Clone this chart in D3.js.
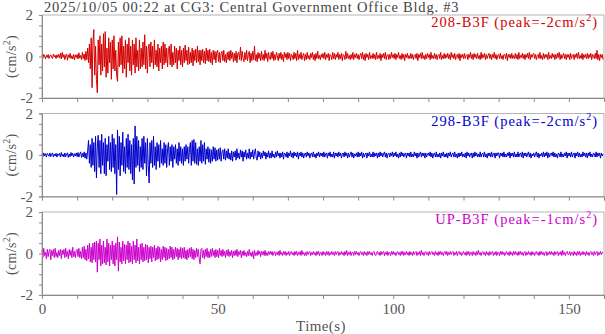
<!DOCTYPE html>
<html>
<head>
<meta charset="utf-8">
<script src="https://cdn.jsdelivr.net/npm/d3@7"></script>
<style>
  body { margin: 0; background: #fff; }
  svg text { font-family: "Liberation Serif", "Times New Roman", serif; }
</style>
</head>
<body>
<svg id="chart" width="605" height="334"></svg>
<script>
// sample interval of the records (s)
var dt = 0.25;

var titleText = "2025/10/05 00:22 at CG3: Central Government Office Bldg. #3";
var channelNames = ["208-B3F", "298-B3F", "UP-B3F"];
var channelPeaks = ["-2", "-2", "-1"];
var channelColors = ["#d40000", "#0000cc", "#cc00cc"];
var xTickLabels = [0, 50, 100, 150];
var yTickLabels = [-2, 0, 2];

// 208-B3F acceleration (cm/s^2), one row = 5 s
var ch208 = [
  .05,-.08,.1,.02,-.12,.06,-.04,.1,-.1,.03,.08,-.06,-.1,.12,-.02,.06,-.1,.08,-.04,.1,
  -.08,.15,-.12,.2,-.05,.1,-.15,.05,.12,-.18,.08,-.06,.15,-.1,.04,-.12,.1,-.15,.08,-.05,
  .1,-.12,.18,-.08,.05,-.15,.2,-.1,.12,-.2,.25,-.15,.4,-.3,.6,-.6,.9,-1.5,.7,1.3,
  -.9,.5,-1.1,-1.75,.8,-.4,1.0,-.9,.6,-.7,1.1,-.5,1.2,-1.0,.4,-.8,.9,-.3,.7,-1.1,
  .8,-.6,1.0,-.7,.3,-.9,-1.2,.7,-.5,.9,-.4,1.0,-.8,.5,-.6,.8,-1.0,.6,-.3,.9,
  -.7,.5,-.9,.8,-.4,.6,-.8,.9,-.5,.3,-.7,.8,-.6,.4,-.5,.7,-.4,1.05,-.6,.5,
  -.8,.4,.6,-.5,.7,-.3,.5,-.6,.8,-.4,.3,-.5,.6,-.7,.4,-.3,.5,-.6,.7,-.4,
  .6,-.3,.4,-.5,.3,.5,-.4,.6,-.5,.2,-.4,.5,-.3,.4,-.6,.3,-.2,.5,-.4,.3,
  -.5,.4,-.3,.55,-.2,.3,-.4,.45,-.35,.2,-.3,.4,-.45,.3,-.2,.35,-.3,.5,-.25,.3,
  -.4,.3,-.2,.35,-.3,.25,-.35,.4,-.2,.3,-.25,.35,-.3,.2,-.4,.3,-.15,.25,-.3,.2,
  .3,-.25,.2,-.3,.15,.25,-.2,.3,-.25,.1,-.3,.2,-.15,.25,-.2,.3,-.1,.2,-.25,.15,
  -.2,.25,-.3,.15,.2,-.15,.45,-.2,.25,-.1,-.25,.2,-.15,.3,-.2,.1,.25,-.3,.15,-.2,
  .25,-.15,.5,-.2,.1,-.25,.2,-.1,.15,-.2,.25,-.15,.1,-.2,.3,-.1,.15,-.25,.2,-.1,
  -.15,.2,-.1,.25,-.2,.1,-.15,.2,.05,-.2,.15,-.1,.2,-.15,.1,-.25,.2,-.05,.15,-.15,
  .2,-.1,.15,-.2,.1,.05,-.15,.2,-.1,.15,-.2,.3,-.15,.1,-.1,.2,-.15,.05,.15,-.2,
  .1,-.15,.2,-.1,.05,-.15,.15,-.05,.2,-.15,.1,-.2,.15,-.1,.25,-.1,.05,-.15,.1,-.05,
  .15,-.1,.2,-.15,.1,-.05,.15,-.2,.1,.05,-.15,.2,-.1,.15,-.15,.1,-.05,.2,-.15,.1,
  -.1,.15,-.2,.1,.05,-.15,.25,-.1,.15,-.1,.05,-.15,.1,-.1,.2,-.15,.1,-.05,.15,-.1,
  .1,-.15,.05,.15,-.1,.2,-.15,.1,-.2,.15,-.05,.1,-.15,.2,-.1,.05,-.1,.15,-.1,.1,
  -.15,.2,-.1,.05,-.1,.15,-.2,.1,-.05,.15,-.1,.2,-.15,.05,.1,-.15,.1,-.1,.2,-.05,
  .1,-.1,.15,-.15,.1,-.05,.2,-.1,.05,-.15,.15,-.1,.1,-.2,.1,-.05,.15,-.1,.05,-.1,
  .15,-.1,.1,-.15,.05,.1,-.1,.15,-.2,.1,-.05,.15,-.1,.2,-.1,.05,-.15,.1,-.1,.15,
  -.05,.1,-.15,.2,-.1,.05,-.1,.15,-.1,.1,-.15,.05,.1,-.1,.2,-.15,.05,-.1,.15,-.1,
  .1,-.05,.15,-.1,.1,-.15,.2,-.05,.1,-.1,.15,-.15,.05,.1,-.1,.15,-.2,.1,-.05,.1,
  -.1,.15,-.1,.05,.1,-.15,.1,-.05,.2,-.1,.1,-.15,.15,-.05,.1,-.1,.15,-.1,.05,-.15,
  .2,-.1,.1,-.05,.15,-.15,.1,-.1,.05,.15,-.1,.1,-.15,.1,-.05,.2,-.1,.1,-.15,.05,
  .1,-.1,.15,-.1,.05,-.15,.1,.1,-.1,.15,-.2,.1,-.05,.1,-.1,.15,-.1,.05,-.1,.15,
  -.1,.1,-.15,.2,-.1,.05,-.05,.15,-.1,.1,-.15,.1,-.05,.15,-.1,.2,-.15,.1,-.05,.1,
  .15,-.1,.1,-.15,.05,.1,-.1,.2,-.1,.05,-.15,.15,-.1,.1,-.05,.1,-.15,.2,-.1,.05,
  -.1,.15,-.05,.1,-.15,.1,-.1,.15,-.05,.2,-.15,.1,-.1,.05,.15,-.1,.1,-.15,.1,-.05,
  .1,-.15,.15,-.1,.05,.1,-.15,.1,-.05,.15,-.1,.2,-.1,.05,-.1,.15,-.15,.1,-.05,.1,
  -.1,.15,-.1,.1,-.05,.15,-.15,.1,.05,-.1,.15,-.1,.3,-.15,.1,-.2,.1,-.05,.1,-.15
];

// 298-B3F
var ch298 = [
  .05,-.08,.1,-.04,.06,-.1,.08,.02,-.06,.1,-.08,.04,.1,-.1,.05,-.05,.08,-.1,.06,-.02,
  .08,-.1,.12,-.06,.04,-.1,.1,-.08,.06,.1,-.12,.05,-.08,.12,-.04,.08,-.1,.06,-.05,.1,
  -.08,.12,-.1,.05,.15,-.12,.08,-.1,.15,-.15,.1,-.2,.2,.7,-.4,.5,-.6,.8,-.5,.6,
  -.8,.9,-1.1,.4,.95,-.6,.7,-.9,1.0,-.5,.6,-.9,.8,-1.0,.5,-.3,.9,-.7,.6,-.8,
  1.0,-.6,.8,-.9,.5,-1.9,1.2,-.7,.9,-1.0,.6,-.5,1.1,-.8,.4,-.9,.8,-.6,1.0,-.7,
  .7,-.9,.5,-1.2,.8,-1.4,1.4,-.6,.9,-.5,.7,-.8,.4,-.6,.8,-.7,.9,-.4,.6,-1.0,
  .8,-.5,-1.35,.6,-.4,.7,-.6,.9,-.5,.4,-.7,.6,-.3,.5,-.6,.7,-.4,.3,-.5,.6,
  -.4,.5,-.6,.3,.6,-.5,.4,-.3,.5,-.6,.4,-.2,.5,-.4,.3,-.5,.6,-.3,.4,-.4,
  .3,-.5,.4,-.3,.5,-.2,.4,-.4,.3,.6,-.5,.7,-.3,.75,-.4,.6,-.45,.3,-.5,.4,
  -.3,.7,-.4,.5,-.3,.6,-.45,.3,-.2,.4,-.35,.3,-.4,.25,-.3,.4,-.2,.35,-.3,.25,
  -.25,.3,-.2,.35,-.3,.15,.25,-.2,.3,-.25,.2,-.15,.3,-.2,.1,-.25,.2,-.3,.15,-.1,
  .2,-.25,.3,-.15,.1,-.2,.25,-.1,.2,-.3,.15,-.1,.25,-.2,.1,-.15,.3,-.2,.15,-.1,
  .25,-.2,.1,.3,-.15,-.25,.2,-.1,.15,-.2,.1,-.15,.2,-.05,.15,-.2,.1,-.1,.2,-.15,
  .1,-.15,.2,-.1,.05,-.15,.15,-.1,.2,-.05,.1,-.15,.1,-.1,.15,-.2,.1,.05,-.1,.15,
  -.15,.1,-.05,.2,-.1,.1,-.15,.15,-.05,.1,-.1,.15,-.2,.1,-.05,.15,-.1,.1,-.15,.05,
  .1,-.1,.15,-.05,.1,-.15,.05,.1,-.1,.15,-.1,.05,-.15,.1,-.05,.15,-.1,.1,-.05,.1,
  -.1,.15,-.1,.05,.1,-.15,.1,-.05,.15,-.1,.05,-.1,.15,-.15,.1,-.05,.1,-.1,.15,-.05,
  .1,-.15,.05,.1,-.1,.15,-.05,.1,-.15,.1,-.1,.05,.15,-.1,.1,-.15,.05,-.05,.1,-.1,
  .15,-.1,.1,-.05,.15,-.15,.1,-.1,.05,.1,-.15,.1,-.05,.15,-.1,.05,-.1,.15,-.1,.1,
  -.05,.1,-.15,.1,-.1,.15,-.05,.1,-.1,.05,.15,-.1,.1,-.15,.05,.1,-.1,.1,-.05,.15,
  -.1,.1,-.05,.15,-.1,.05,-.15,.1,-.1,.15,-.05,.1,-.1,.05,.1,-.15,.1,-.05,.1,-.1,
  .15,-.1,.05,-.1,.15,-.05,.1,-.15,.1,-.1,.05,.15,-.1,.1,-.05,.1,-.15,.1,-.1,.05,
  .1,-.05,.15,-.1,.1,-.15,.05,.1,-.1,.15,-.1,.05,-.1,.1,-.15,.1,-.05,.15,-.1,.05,
  -.1,.1,-.15,.1,-.05,.15,-.1,.05,.1,-.1,.15,-.1,.05,-.15,.1,-.1,.1,-.05,.15,-.1,
  .05,-.1,.1,-.15,.15,-.05,.1,-.1,.05,.1,-.15,.1,-.1,.15,-.05,.1,-.1,.05,-.1,.15,
  -.1,.05,.1,-.1,.15,-.1,.05,-.15,.1,-.05,.1,-.1,.15,-.1,.05,.1,-.15,.1,-.05,.1,
  .1,-.15,.1,-.05,.1,-.1,.15,-.1,.05,-.1,.1,-.05,.15,-.15,.1,-.05,.1,-.1,.15,-.1,
  .05,-.1,.15,-.1,.05,.1,-.1,.15,-.15,.1,-.05,.1,-.1,.05,.15,-.1,.1,-.15,.05,-.05,
  .1,-.1,.05,.15,-.1,.1,-.15,.05,-.05,.1,-.1,.15,-.1,.1,-.05,.15,-.15,.1,-.1,.05,
  .1,-.05,.15,-.1,.1,-.1,.05,-.15,.1,.05,-.1,.15,-.1,.05,-.1,.1,-.05,.15,-.15,.1,
  -.05,.1,-.1,.15,-.1,.05,.1,-.15,.1,-.05,.15,-.1,.1,-.1,.05,-.1,.15,-.05,.1,-.1,
  .1,-.15,.1,-.05,.15,-.1,.05,-.1,.1,.05,-.1,.15,-.1,.1,-.05,.1,-.15,.1,-.05,.05
];

// UP-B3F
var chUP = [
  .15,-.2,.25,-.1,.05,-.25,.2,-.15,.1,.2,-.3,.15,-.1,.2,-.2,.25,-.15,.05,-.2,.15,
  -.1,.2,-.25,.15,-.05,.2,-.2,.25,-.15,.1,-.25,.2,-.1,.15,-.2,.3,-.15,.1,-.2,.15,
  .2,-.15,.25,-.2,.1,-.25,.3,-.2,.35,-.3,.2,-.35,.4,-.25,.5,-.4,.3,-.45,.5,-.3,
  .55,-.4,.6,-.9,.5,-.3,.7,-.6,.4,-.5,.6,-.45,.3,-.55,.7,-.4,.5,-.6,.4,-.3,
  .6,-.5,.4,-.6,.5,-.3,.8,-.85,.55,-.4,.3,-.5,.6,-.35,.45,-.5,.4,-.3,.6,-.45,
  .5,-.4,.35,-.5,.6,-.3,.4,-.45,.7,-.35,.3,-.5,.45,-.3,.5,-.4,.3,-.35,.45,-.3,
  .4,-.45,.3,-.25,.35,-.4,.3,-.2,.4,-.35,.25,-.3,.35,-.25,.3,-.4,.2,-.3,.35,-.2,
  .3,-.35,.25,-.3,.2,-.25,.35,-.2,.3,-.3,.2,-.25,.3,-.15,.25,-.3,.2,-.2,.3,-.25,
  .25,-.2,.3,-.25,.15,-.3,.2,-.2,.25,-.15,.3,-.25,.2,-.3,.15,-.2,.25,-.15,.2,-.25,
  -.5,.2,.25,-.2,.15,-.25,.2,-.15,.25,-.2,.1,-.2,.2,-.15,.25,-.1,.15,-.2,.2,-.15,
  .15,-.2,.25,-.1,.15,-.15,.2,-.1,.1,-.2,.15,-.1,.2,-.15,.1,-.1,.15,-.2,.1,-.1,
  .15,-.1,.2,-.15,.1,-.05,.15,-.2,.1,-.1,.15,-.1,.05,-.15,.1,-.1,.2,-.1,.05,-.15,
  .1,-.25,.15,-.1,.05,-.1,.15,-.05,.1,-.15,.1,-.05,.1,-.1,.15,-.1,.05,-.1,.1,-.05,
  .1,-.05,.1,-.1,.05,.1,-.1,.05,-.05,.1,-.1,.15,-.05,.05,-.1,.1,-.05,.1,-.1,.05,
  -.05,.1,-.1,.05,.1,-.05,.05,-.1,.1,-.05,.1,-.1,.05,-.05,.1,-.1,.15,-.05,.05,-.1,
  .05,-.1,.1,-.05,.05,.1,-.1,.05,-.05,.1,-.05,.05,-.1,.1,-.05,.1,-.1,.05,.05,-.1,
  .1,-.05,.05,-.1,.1,-.05,.1,-.1,.05,-.05,.1,-.05,.05,-.1,.1,-.05,.05,.1,-.1,.05,
  -.05,.1,-.05,.05,-.1,.1,-.05,.15,-.1,.05,-.05,.1,-.1,.05,.05,-.1,.1,-.05,.1,-.05,
  .05,-.1,.05,.1,-.05,.05,-.1,.1,-.05,.05,-.1,.1,-.05,.1,-.05,.05,-.1,.05,.1,-.05,
  -.1,.05,.1,-.05,.05,-.1,.1,-.05,.05,.1,-.1,.05,-.05,.1,-.1,.05,.05,-.1,.1,-.05,
  .1,-.05,.05,-.1,.05,.1,-.05,.05,-.1,.1,-.05,.1,-.1,.05,-.05,.1,-.05,.05,-.1,.1,
  -.05,.05,-.1,.1,-.05,.05,.1,-.1,.05,-.05,.1,-.1,.15,-.05,.05,-.1,.05,.1,-.05,.05,
  -.1,.1,-.05,.05,.1,-.05,.05,-.1,.1,-.05,.05,-.1,.1,-.05,.1,-.05,.05,-.1,.05,.1,
  -.05,.1,-.1,.05,-.05,.1,-.05,.05,.1,-.1,.05,-.05,.1,-.1,.05,.1,-.05,.05,-.1,.05,
  .1,-.05,.05,-.1,.1,-.05,.1,-.1,.05,.05,-.1,.1,-.05,.05,-.1,.1,-.05,.15,-.05,.05,
  -.1,.05,.1,-.05,.05,-.1,.1,-.05,.05,-.1,.1,-.05,.05,.1,-.1,.05,-.05,.1,-.1,.05,
  .05,-.1,.1,-.05,.1,-.05,.05,-.1,.05,.1,-.05,.05,-.1,.1,-.05,.05,-.1,.1,-.05,.1,
  -.05,.05,-.1,.1,-.05,.1,-.05,.05,-.1,.05,.1,-.1,.05,-.05,.1,-.05,.05,-.1,.1,-.05,
  .05,-.1,.05,.1,-.05,.05,-.1,.1,-.05,.1,-.05,.05,-.1,.05,.1,-.1,.05,-.05,.1,-.05,
  .1,-.05,.05,-.1,.1,-.05,.05,.1,-.1,.05,-.05,.1,-.1,.15,-.05,.05,-.1,.05,.1,-.05,
  -.05,.1,-.1,.05,.05,-.1,.1,-.05,.05,-.1,.1,-.05,.1,-.1,.05,-.05,.1,-.05,.05,-.1,
  .1,-.05,.05,-.1,.05,.1,-.05,.05,-.1,.1,-.05,.05,.1,-.1,.05,-.05,.1,-.05,.05,.05
];

var channels = [ch208, ch298, chUP];

var svg = d3.select("#chart");
var margin = { left: 42, right: 1 },
  w = 605 - margin.left - margin.right,
  h = 83,
  panelTop = 15,
  panelStep = 98.5;

var axisGray = "#8a8a8a",
  textGray = "#555";

// shared time scale
var x = d3.scaleLinear().domain([0, 160]).range([0, w]);
var y = d3.scaleLinear().domain([-2, 2]).range([h, 0]);

// title
svg.append("text")
  .attr("x", 44)
  .attr("y", 12)
  .attr("font-size", 14.5)
  .attr("fill", "#444")
  .attr("letter-spacing", 0.8)
  .text(titleText);

channels.forEach(function (vals, i) {
  var g = svg.append("g")
    .attr("transform", `translate(${margin.left}, ${panelTop + i * panelStep})`);

  // frame
  g.append("rect")
    .attr("width", w).attr("height", h)
    .attr("fill", "none")
    .attr("stroke", "#b5b5b5");

  // trace
  var line = d3.line()
    .x(function (d, k) { return x(k * dt); })
    .y(function (d) { return y(d); });

  g.append("path")
    .datum(vals)
    .attr("d", line)
    .attr("fill", "none")
    .attr("stroke", channelColors[i])
    .attr("stroke-width", 1)
    .attr("stroke-linejoin", "miter");

  // y axis
  var yAxis = g.append("g")
    .call(d3.axisLeft(y)
      .tickValues(d3.range(-2, 2.01, 0.5))
      .tickSize(3)
      .tickPadding(6)
      .tickFormat(function (d) { return yTickLabels.indexOf(d) >= 0 ? d : ""; }));

  // x axis
  var xAxis = g.append("g")
    .attr("transform", `translate(0, ${h})`)
    .call(d3.axisBottom(x)
      .tickValues(d3.range(0, 161, 10))
      .tickSize(4)
      .tickPadding(4)
      .tickFormat(function (d) { return (i === 2 && xTickLabels.indexOf(d) >= 0) ? d : ""; }));

  [yAxis, xAxis].forEach(function (a) {
    a.select(".domain").attr("stroke", axisGray);
    a.selectAll(".tick line").attr("stroke", axisGray);
    a.selectAll(".tick text")
      .attr("fill", textGray)
      .attr("font-size", 15)
      .attr("font-family", "Liberation Serif, serif");
  });

  // y axis title
  var yl = g.append("text")
    .attr("transform", "rotate(-90)")
    .attr("x", -h / 2)
    .attr("y", -margin.left + 16)
    .attr("text-anchor", "middle")
    .attr("font-size", 14)
    .attr("fill", textGray)
    .attr("letter-spacing", 0.3);
  yl.append("tspan").text("(cm/s");
  yl.append("tspan").attr("dy", -6).attr("font-size", 10).text("2");
  yl.append("tspan").attr("dy", 6).text(")");

  // channel label
  var lab = g.append("text")
    .attr("x", w - 6)
    .attr("y", 12)
    .attr("text-anchor", "end")
    .attr("font-size", 14.5)
    .attr("fill", channelColors[i])
    .attr("letter-spacing", 1.0);
  lab.append("tspan").text(channelNames[i] + " (peak=" + channelPeaks[i] + "cm/s");
  lab.append("tspan").attr("dy", -6).attr("font-size", 10).text("2");
  lab.append("tspan").attr("dy", 6).text(")");
});

// x axis title
svg.append("text")
  .attr("x", margin.left + w / 2 - 2)
  .attr("y", 331)
  .attr("text-anchor", "middle")
  .attr("font-size", 15)
  .attr("fill", textGray)
  .attr("letter-spacing", 0.4)
  .text("Time(s)");
</script>
</body>
</html>
